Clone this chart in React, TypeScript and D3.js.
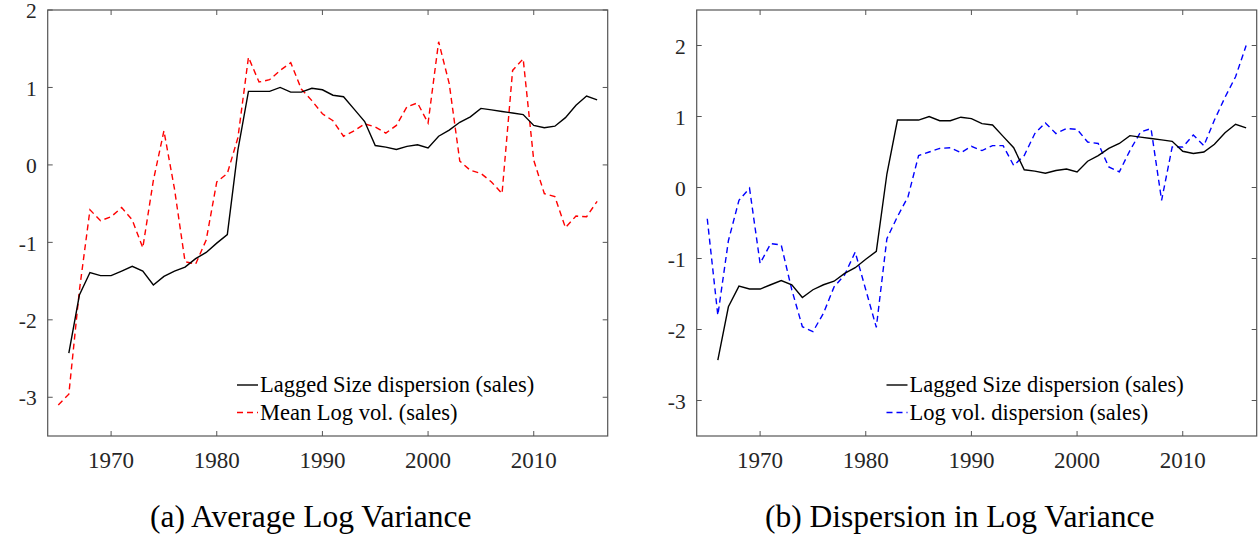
import React from "react";
import * as d3 from "d3";

const yearsSize = d3.range(1966, 2017);
const sizeDispersion = [
  -2.43, -1.68, -1.39, -1.43, -1.43, -1.37, -1.31, -1.37, -1.55, -1.44,
  -1.37, -1.32, -1.21, -1.13, -1.01, -0.9, 0.19, 0.95, 0.95, 0.95,
  1.0, 0.94, 0.94, 0.99, 0.97, 0.9, 0.88, 0.72, 0.56, 0.25,
  0.23, 0.2, 0.24, 0.26, 0.22, 0.37, 0.45, 0.55, 0.62, 0.73,
  0.71, 0.69, 0.67, 0.65, 0.51, 0.48, 0.5, 0.61, 0.77, 0.89, 0.84,
];

const yearsVol = d3.range(1965, 2017);
const meanLogVol = [
  -3.1, -2.96, -1.62, -0.58, -0.72, -0.67, -0.55, -0.71, -1.07, -0.2,
  0.44, -0.31, -1.25, -1.28, -0.97, -0.22, -0.11, 0.35, 1.39, 1.07,
  1.1, 1.22, 1.32, 0.98, 0.83, 0.66, 0.57, 0.37, 0.44, 0.53,
  0.49, 0.41, 0.51, 0.75, 0.8, 0.54, 1.59, 1.05, 0.05, -0.07,
  -0.11, -0.22, -0.37, 1.22, 1.37, 0.06, -0.37, -0.41, -0.81, -0.66,
  -0.67, -0.47,
];
const logVolDispersion = [
  -0.44, -1.8, -0.75, -0.18, -0.01, -1.07, -0.79, -0.81, -1.44, -1.96,
  -2.03, -1.77, -1.4, -1.23, -0.91, -1.44, -1.97, -0.72, -0.41, -0.13,
  0.45, 0.5, 0.55, 0.56, 0.49, 0.58, 0.52, 0.59, 0.59, 0.31,
  0.45, 0.76, 0.91, 0.76, 0.83, 0.82, 0.64, 0.62, 0.29, 0.22,
  0.52, 0.78, 0.83, -0.18, 0.57, 0.57, 0.74, 0.59, 0.95, 1.27,
  1.56, 2.0,
];

const xTicks = [1970, 1980, 1990, 2000, 2010];
const yTicksA = [-3, -2, -1, 0, 1, 2];
const yTicksB = [-3, -2, -1, 0, 1, 2];

const legendA = ["Lagged Size dispersion (sales)", "Mean Log vol. (sales)"];
const legendB = ["Lagged Size dispersion (sales)", "Log vol. dispersion (sales)"];
const captions = ["(a) Average Log Variance", "(b) Dispersion in Log Variance"];

const AXIS = "#555";
const TICKTXT = "#262626";
const FONT =
  '"Liberation Serif", "Times New Roman", Times, Tinos, "Noto Serif", "DejaVu Serif", FreeSerif, serif';

type PanelProps = {
  left: number;
  right: number;
  yDomain: [number, number];
  yTicks: number[];
  second: number[];
  secondColor: string;
  legend: string[];
  legendX: number;
  caption: string;
};

function Panel(p: PanelProps) {
  const top = 10;
  const bottom = 436;
  const x = d3.scaleLinear().domain([1964, 2017]).range([p.left, p.right]);
  const y = d3.scaleLinear().domain(p.yDomain).range([bottom, top]);
  const line = d3
    .line<[number, number]>()
    .x((d) => x(d[0]))
    .y((d) => y(d[1]));
  const blackPts = yearsSize.map((yr, i) => [yr, sizeDispersion[i]] as [number, number]);
  const secondPts = yearsVol.map((yr, i) => [yr, p.second[i]] as [number, number]);
  const tl = 5;
  return (
    <g>
      <path d={line(secondPts) || ""} fill="none" stroke={p.secondColor} strokeWidth={1.4} strokeDasharray="6,4" />
      <path d={line(blackPts) || ""} fill="none" stroke="#000" strokeWidth={1.4} />
      <rect x={p.left} y={top} width={p.right - p.left} height={bottom - top} fill="none" stroke={AXIS} strokeWidth={1.2} />
      {xTicks.map((t) => (
        <g key={"x" + t}>
          <line x1={x(t)} x2={x(t)} y1={bottom} y2={bottom - tl} stroke={AXIS} />
          <line x1={x(t)} x2={x(t)} y1={top} y2={top + tl} stroke={AXIS} />
          <text x={x(t)} y={bottom + 32} textAnchor="middle" fontSize={23} fill={TICKTXT}>
            {t}
          </text>
        </g>
      ))}
      {p.yTicks.map((t) => (
        <g key={"y" + t}>
          <line x1={p.left} x2={p.left + tl} y1={y(t)} y2={y(t)} stroke={AXIS} />
          <line x1={p.right} x2={p.right - tl} y1={y(t)} y2={y(t)} stroke={AXIS} />
          <text x={p.left - 11} y={y(t)} dy="0.38em" textAnchor="end" fontSize={21.5} fill={TICKTXT}>
            {t}
          </text>
        </g>
      ))}
      <line x1={p.legendX} x2={p.legendX + 21} y1={385} y2={385} stroke="#000" strokeWidth={1.4} />
      <text x={p.legendX + 23} y={385} dy="0.33em" fontSize={22.5} fill="#000">
        {p.legend[0]}
      </text>
      <line x1={p.legendX} x2={p.legendX + 21} y1={412.5} y2={412.5} stroke={p.secondColor} strokeWidth={1.4} strokeDasharray="6,4" />
      <text x={p.legendX + 23} y={412.5} dy="0.33em" fontSize={22.5} fill="#000">
        {p.legend[1]}
      </text>
      <text x={(p.left + p.right) / 2 - 17} y={527} textAnchor="middle" fontSize={31.5} fill="#000">
        {p.caption}
      </text>
    </g>
  );
}

export default function App() {
  return (
    <svg
      width={1259}
      height={537}
      fontFamily={FONT}
      style={{ position: "absolute", left: 0, top: 0, background: "#fff" }}
    >
      <rect width={1259} height={537} fill="#fff" />
      <Panel
        left={47.7}
        right={607.7}
        yDomain={[-3.5, 2]}
        yTicks={yTicksA}
        second={meanLogVol}
        secondColor="#ff0000"
        legend={legendA}
        legendX={237}
        caption={captions[0]}
      />
      <Panel
        left={696.7}
        right={1256.7}
        yDomain={[-3.5, 2.5]}
        yTicks={yTicksB}
        second={logVolDispersion}
        secondColor="#0000ff"
        legend={legendB}
        legendX={886.5}
        caption={captions[1]}
      />
    </svg>
  );
}
